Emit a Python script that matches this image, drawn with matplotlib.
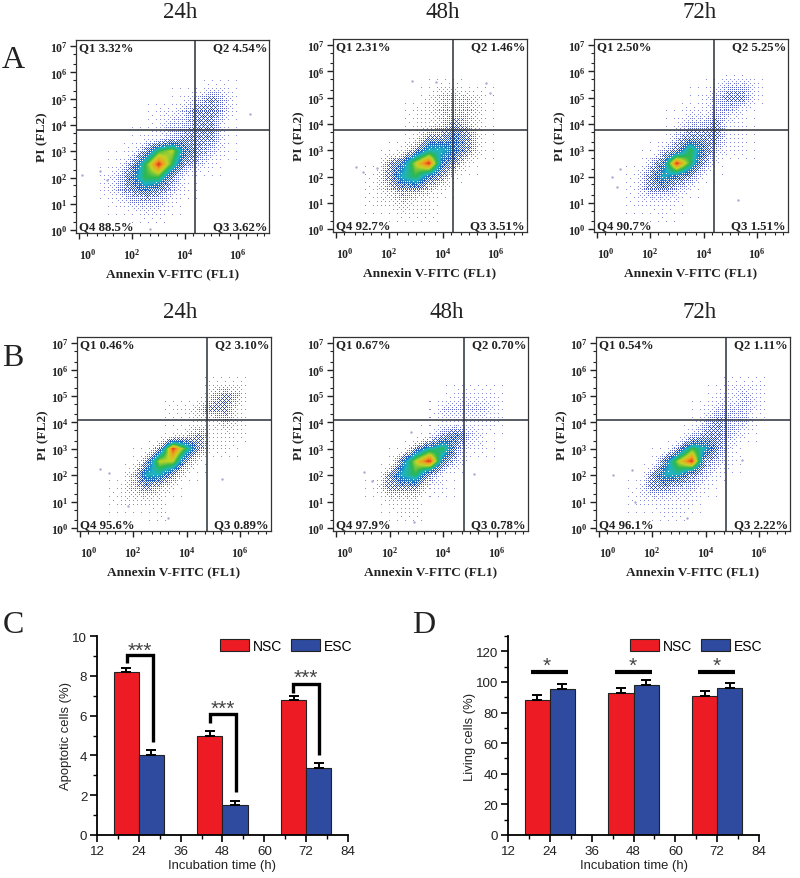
#!/usr/bin/env python3
"""Flow cytometry quadrant panels plus apoptosis and viability bars."""

from __future__ import annotations

import matplotlib
matplotlib.use("Agg")
import matplotlib.pyplot as plt
import numpy as np
from matplotlib.colors import LinearSegmentedColormap

FIG_W, FIG_H = 800, 879
SERIF = "Liberation Serif"
SANS = "Liberation Sans"

plt.rcParams["mathtext.fontset"] = "custom"
plt.rcParams["mathtext.rm"] = SERIF
plt.rcParams["mathtext.bf"] = f"{SERIF}:bold"

# density on a half-decade grid, 0 empty to 9 hottest
# columns are log10 FL1 0.5 to 6.5, rows are log10 FL2 6.0 down to 0.0
DENSITY_A24 = [
  "0000000000000", "0000000001100", "0000000123200", "0000011233200", "0000012233100",
  "0000112333100", "0001367432100", "0013696321000", "0124663100000", "0123432100000",
  "0012221000000", "0000110000000", "0000000000000",
]
DENSITY_A48 = [
  "0000000000000", "0000000110000", "0000001222100", "0000011222100", "0000011232100",
  "0000013343100", "0000135543100", "0003479431000", "0013564310000", "0012332100000",
  "0011211000000", "0000111000000", "0000000000000",
]
DENSITY_A72 = [
  "0000000000000", "0000000012210", "0000000123310", "0000001122100", "0000012231100",
  "0000023331100", "0000236421100", "0002496310000", "0013543100000", "0013321000000",
  "0011110000000", "0000100000000", "0000000000000",
]
DENSITY_B24 = [
  "0000000000000", "0000000001110", "0000000002320", "0000001123310", "0000000011210",
  "0000001231110", "0000039631100", "0000377310000", "0002553100000", "0012321000000",
  "0011110000000", "0000010000000", "0000000000000",
]
DENSITY_B48 = [
  "0000000000000", "0000000000000", "0000000011110", "0000000222210", "0000000111110",
  "0000001342100", "0000035631100", "0000479420000", "0003563100000", "0013331100000",
  "0001110000000", "0000110000000", "0000000000000",
]
DENSITY_B72 = [
  "0000000000000", "0000000001110", "0000000011210", "0000000122210", "0000000232200",
  "0000002332100", "0000036531000", "0000479321000", "0003553210000", "0013322100000",
  "0011111000000", "0000110000000", "0000000000000",
]

# isolated events, (log10 FL1, log10 FL2)
STRAYS_A24 = [(0.1, 2.1), (0.8, 2.25), (1.05, 1.9), (6.45, 4.4), (2.7, 0.05)]
STRAYS_A48 = [(0.77, 2.38), (1.03, 2.19), (1.54, 2.32), (2.87, 5.65), (3.75, 5.6), (5.65, 5.57), (5.77, 5.19)]
STRAYS_A72 = [(0.56, 1.97), (0.85, 2.3), (0.75, 1.6), (5.3, 1.1)]
STRAYS_B24 = [(0.77, 2.25), (1.09, 2.08), (1.82, 0.84), (3.3, 0.39), (5.33, 1.85)]
STRAYS_B48 = [(1.03, 2.13), (1.34, 1.8), (2.92, 0.23), (5.14, 2.06), (2.8, 3.65)]
STRAYS_B72 = [(0.54, 2.0), (1.24, 2.19), (1.34, 0.97), (3.32, 0.4), (5.35, 2.57)]

QUADS_A24 = ["Q1 3.32%", "Q2 4.54%", "Q3 3.62%", "Q4 88.5%"]
QUADS_A48 = ["Q1 2.31%", "Q2 1.46%", "Q3 3.51%", "Q4 92.7%"]
QUADS_A72 = ["Q1 2.50%", "Q2 5.25%", "Q3 1.51%", "Q4 90.7%"]
QUADS_B24 = ["Q1 0.46%", "Q2 3.10%", "Q3 0.89%", "Q4 95.6%"]
QUADS_B48 = ["Q1 0.67%", "Q2 0.70%", "Q3 0.78%", "Q4 97.9%"]
QUADS_B72 = ["Q1 0.54%", "Q2 1.11%", "Q3 2.22%", "Q4 96.1%"]

TIMES = [24, 48, 72]
APOPTOTIC_NSC = [8.2, 5.0, 6.8]
APOPTOTIC_ESC = [4.0, 1.5, 3.35]
APOPTOTIC_NSC_ERR = [0.17, 0.22, 0.2]
APOPTOTIC_ESC_ERR = [0.25, 0.22, 0.27]
LIVING_NSC = [88.5, 92.7, 90.7]
LIVING_ESC = [95.6, 97.9, 96.1]
LIVING_NSC_ERR = [3.2, 3.2, 3.2]
LIVING_ESC_ERR = [3.3, 3.5, 3.3]

FLOW_CMAP = LinearSegmentedColormap.from_list(
  "flow",
  ["#ffffff", "#a0a2e0", "#5c66cc", "#3048b8", "#1f62c8", "#1fb4c0", "#2cb850", "#c2d426", "#f0a020", "#e2301c"],
)

# ordered dither tile, turns the low end of the density into separate dots
BAYER = np.array(
  [[0, 32, 8, 40, 2, 34, 10, 42], [48, 16, 56, 24, 50, 18, 58, 26],
   [12, 44, 4, 36, 14, 46, 6, 38], [60, 28, 52, 20, 62, 30, 54, 22],
   [3, 35, 11, 43, 1, 33, 9, 41], [51, 19, 59, 27, 49, 17, 57, 25],
   [15, 47, 7, 39, 13, 45, 5, 37], [63, 31, 55, 23, 61, 29, 53, 21]]
) / 64.0


def axes_at(fig, left, top, right, bottom):
  return fig.add_axes([left / FIG_W, 1 - bottom / FIG_H, (right - left) / FIG_W, (bottom - top) / FIG_H])


def dotted_density(density, cells=160):
  grid = np.array([[int(c) for c in row] for row in density], dtype=float)
  coarse = np.arange(grid.shape[0])
  fine = np.linspace(0, grid.shape[0] - 1, cells)
  by_row = np.array([np.interp(fine, coarse, col) for col in grid.T]).T
  value = np.array([np.interp(fine, coarse, row) for row in by_row])
  tile = BAYER[np.ix_(np.arange(cells) % 8, np.arange(cells) % 8)]
  coverage = (value / 5.0) ** 1.8
  return np.ma.masked_where(coverage <= tile, np.maximum(value, 1.4))


def flow_panel(fig, box, vline, hline, density, strays, quads):
  left, top, right, bottom = box
  ax = axes_at(fig, left, top, right, bottom)
  xlim = (-0.11, 7.17)
  ylim = (-0.11, 7.23)

  ax.imshow(
    dotted_density(density),
    extent=(0.5, 6.5, 0.0, 6.0),
    cmap=FLOW_CMAP,
    vmin=0,
    vmax=9,
    interpolation="nearest",
    aspect="auto",
    zorder=1,
  )
  ax.set_xlim(xlim)
  ax.set_ylim(ylim)
  xs, ys = zip(*strays)
  ax.scatter(xs, ys, s=3, color="#a8a8d4", linewidths=0, zorder=2)

  # quadrant gates are read in pixels of the panel
  vx = xlim[0] + (vline - left) / (right - left) * (xlim[1] - xlim[0])
  hy = ylim[0] + (bottom - hline) / (bottom - top) * (ylim[1] - ylim[0])
  ax.axvline(vx, color="#2a2f38", lw=1.1, zorder=3)
  ax.axhline(hy, color="#2a2f38", lw=1.1, zorder=3)

  text_kw = dict(family=SERIF, fontweight="bold", fontsize=9.2, color="#222222", transform=ax.transAxes, zorder=4)
  ax.text(0.015, 0.965, quads[0], ha="left", va="center", **text_kw)
  ax.text(0.99, 0.965, quads[1], ha="right", va="center", **text_kw)
  ax.text(0.99, 0.035, quads[2], ha="right", va="center", **text_kw)
  ax.text(0.015, 0.035, quads[3], ha="left", va="center", **text_kw)

  for spine in ax.spines.values():
    spine.set_linewidth(0.9)
    spine.set_color("#333333")

  ax.set_xticks([0, 2, 4, 6])
  ax.set_xticks([1, 3, 5, 7, 0.3, 0.7, 1.3, 1.7, 2.3, 2.7, 3.3, 3.7, 4.3, 4.7, 5.3, 5.7, 6.3, 6.7], minor=True)
  ax.set_xticklabels([rf"$\mathbf{{10^{{{i}}}}}$" for i in [0, 2, 4, 6]], fontsize=8.5)
  ax.get_xticklabels()[0].set_ha("left")
  ax.set_yticks(range(8))
  ax.set_yticks([0.3, 0.7, 1.3, 1.7, 2.3, 2.7, 3.3, 3.7, 4.3, 4.7, 5.3, 5.7, 6.3, 6.7], minor=True)
  ax.set_yticklabels([rf"$\mathbf{{10^{{{i}}}}}$" for i in range(8)], fontsize=8.5)
  ax.tick_params(axis="both", which="major", length=4, width=1, color="#222222", labelcolor="#222222")
  ax.tick_params(axis="x", which="major", pad=6)
  ax.tick_params(axis="y", which="major", pad=2)
  ax.tick_params(axis="both", which="minor", length=2, width=0.8, color="#222222")
  ax.set_xlabel("Annexin V-FITC (FL1)", family=SERIF, fontweight="bold", fontsize=9.6, labelpad=4, color="#222222")
  ax.set_ylabel("PI (FL2)", family=SERIF, fontweight="bold", fontsize=9.6, labelpad=1, color="#222222")
  return ax


def bar_panel(fig, box, nsc, esc, nsc_err, esc_err, ylabel, ylim, yticks, yminor):
  ax = axes_at(fig, *box)
  centers = np.array(TIMES)
  width = 7.2
  err_kw = dict(ecolor="black", elinewidth=1.4, capsize=3.5, capthick=1.4)
  ax.bar(centers - width / 2, nsc, width, color="#ed1c24", edgecolor="#222222", linewidth=0.8, label="NSC",
         yerr=[np.zeros(3), nsc_err], error_kw=err_kw)
  ax.bar(centers + width / 2, esc, width, color="#2f4b9f", edgecolor="#222222", linewidth=0.8, label="ESC",
         yerr=[np.zeros(3), esc_err], error_kw=err_kw)
  ax.set_xlim(12, 84)
  ax.set_ylim(*ylim)
  ax.set_xticks(range(12, 85, 12))
  ax.set_xticks(range(18, 85, 12), minor=True)
  ax.set_yticks(yticks)
  ax.set_yticks(yminor, minor=True)
  ax.spines["top"].set_visible(False)
  ax.spines["right"].set_visible(False)
  ax.spines["left"].set_linewidth(1.3)
  ax.spines["bottom"].set_linewidth(1.3)
  ax.tick_params(axis="both", which="major", length=5, width=1.2, labelsize=9.6, pad=2, labelcolor="#222222")
  ax.tick_params(axis="both", which="minor", length=3, width=1.0)
  for label in ax.get_xticklabels() + ax.get_yticklabels():
    label.set_family(SANS)
  ax.set_xlabel("Incubation time (h)", family=SANS, fontsize=9.4, labelpad=2, color="#222222")
  ax.set_ylabel(ylabel, family=SANS, fontsize=9.4, labelpad=0, color="#222222")
  return ax


def add_legend(ax, anchor):
  ax.legend(
    loc="lower left",
    bbox_to_anchor=anchor,
    ncol=2,
    frameon=False,
    prop={"family": SANS, "size": 10},
    handlelength=2.1,
    handleheight=1.0,
    handletextpad=0.3,
    columnspacing=0.6,
    borderpad=0,
    borderaxespad=0,
  )


def main() -> None:
  fig = plt.figure(figsize=(FIG_W / 100, FIG_H / 100), dpi=100)

  flow_panel(fig, (76, 41, 269, 234), 195, 131, DENSITY_A24, STRAYS_A24, QUADS_A24)
  flow_panel(fig, (333, 40, 527, 233), 453, 131, DENSITY_A48, STRAYS_A48, QUADS_A48)
  flow_panel(fig, (594, 40, 788, 233), 714, 131, DENSITY_A72, STRAYS_A72, QUADS_A72)
  flow_panel(fig, (77, 338, 271, 532), 207, 421, DENSITY_B24, STRAYS_B24, QUADS_B24)
  flow_panel(fig, (333, 338, 528, 532), 464, 421, DENSITY_B48, STRAYS_B48, QUADS_B48)
  flow_panel(fig, (596, 338, 790, 532), 726, 421, DENSITY_B72, STRAYS_B72, QUADS_B72)

  ax_c = bar_panel(
    fig, (97, 637, 348, 836), APOPTOTIC_NSC, APOPTOTIC_ESC, APOPTOTIC_NSC_ERR, APOPTOTIC_ESC_ERR,
    "Apoptotic cells (%)", (0, 10), range(0, 11, 2), range(1, 10, 2),
  )
  bracket = dict(color="black", lw=2.4, solid_joinstyle="miter", solid_capstyle="butt", zorder=5)
  star = dict(family=SANS, fontsize=15, ha="center", va="center", color="#444444", zorder=5)
  ax_c.plot([20.6, 20.6, 28.0, 28.0], [8.66, 9.03, 9.03, 4.65], **bracket)
  ax_c.plot([44.4, 44.4, 51.85, 51.85], [5.65, 6.07, 6.07, 2.17], **bracket)
  ax_c.plot([68.2, 68.2, 75.6, 75.6], [7.16, 7.6, 7.6, 4.0], **bracket)
  ax_c.text(24.4, 9.3, "***", **star)
  ax_c.text(48.2, 6.35, "***", **star)
  ax_c.text(72.0, 7.9, "***", **star)
  add_legend(ax_c, (0.49, 0.915))

  ax_d = bar_panel(
    fig, (508, 637, 759, 836), LIVING_NSC, LIVING_ESC, LIVING_NSC_ERR, LIVING_ESC_ERR,
    "Living cells (%)", (0, 130), range(0, 121, 20), range(10, 131, 20),
  )
  for x0, x1, sx in [(18.7, 29.2, 23.2), (42.8, 53.4, 47.9), (66.5, 77.0, 71.8)]:
    ax_d.plot([x0, x1], [106.7, 106.7], color="black", lw=3, solid_capstyle="butt", zorder=5)
    ax_d.text(sx, 111, "*", **star)
  add_legend(ax_d, (0.485, 0.915))

  header = dict(family=SERIF, fontsize=16.5, ha="center", va="center", color="#222222")
  for label, x, y in [("24h", 180, 13), ("48h", 443, 13), ("72h", 700, 13),
                      ("24h", 180, 313), ("48h", 447, 313), ("72h", 700, 313)]:
    fig.text(x / FIG_W, 1 - y / FIG_H, label, **header)
  letter = dict(family=SERIF, fontsize=23, ha="center", va="center", color="#222222")
  for label, x, y in [("A", 13, 60), ("B", 13, 358), ("C", 13, 626), ("D", 424, 626)]:
    fig.text(x / FIG_W, 1 - y / FIG_H, label, **letter)

  fig.savefig("out.png", dpi=100)
  plt.close(fig)


if __name__ == "__main__":
  main()
